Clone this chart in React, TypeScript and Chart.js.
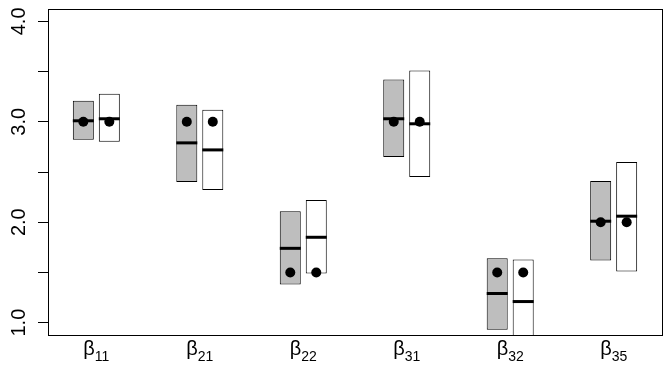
import React, { useEffect, useRef } from 'react';
import { Chart, registerables } from 'chart.js';

Chart.register(...registerables);

// Category subscripts (labels are β with these subscripts)
const subscripts = ['11', '21', '22', '31', '32', '35'];
const categoryPos = [1, 2, 3, 4, 5, 6];

// Gray boxes
const grayLow = [2.82, 2.40, 1.38, 2.65, 0.93, 1.62];
const grayHigh = [3.21, 3.17, 2.11, 3.42, 1.64, 2.41];
const grayMedian = [3.01, 2.79, 1.74, 3.03, 1.29, 2.01];

// White boxes
const whiteLow = [2.80, 2.32, 1.49, 2.45, 0.80, 1.51];
const whiteHigh = [3.28, 3.12, 2.22, 3.51, 1.63, 2.60];
const whiteMedian = [3.03, 2.72, 1.85, 2.98, 1.21, 2.06];

// True parameter values (black dots)
const trueValue = [3.0, 3.0, 1.5, 3.0, 1.5, 2.0];

// Y axis ticks
const yTicks = [1.0, 1.5, 2.0, 2.5, 3.0, 3.5, 4.0];
const yLabelTicks = [1.0, 2.0, 3.0, 4.0];

const FONT = "'Liberation Sans', Arial, sans-serif";

const overlayPlugin = {
  id: 'overlay',
  afterDatasetsDraw(chart: any) {
    const ctx = chart.ctx;
    const area = chart.chartArea;
    const ys = chart.scales.y;
    const medians = [grayMedian, whiteMedian];
    ctx.save();
    ctx.beginPath();
    ctx.rect(area.left, area.top, area.right - area.left, area.bottom - area.top);
    ctx.clip();
    // medians
    [0, 1].forEach((di) => {
      const meta = chart.getDatasetMeta(di);
      meta.data.forEach((bar: any, i: number) => {
        const y = ys.getPixelForValue(medians[di][i]);
        ctx.strokeStyle = '#000';
        ctx.lineWidth = 3;
        ctx.beginPath();
        ctx.moveTo(bar.x - bar.width / 2, y);
        ctx.lineTo(bar.x + bar.width / 2, y);
        ctx.stroke();
      });
    });
    // dots
    [0, 1].forEach((di) => {
      const meta = chart.getDatasetMeta(di);
      meta.data.forEach((bar: any, i: number) => {
        const y = ys.getPixelForValue(trueValue[i]);
        ctx.fillStyle = '#000';
        ctx.beginPath();
        ctx.arc(bar.x, y, 5, 0, Math.PI * 2);
        ctx.fill();
      });
    });
    ctx.restore();
  },
  afterDraw(chart: any) {
    const ctx = chart.ctx;
    const area = chart.chartArea;
    const xs = chart.scales.x;
    const ys = chart.scales.y;
    ctx.save();
    // frame
    ctx.strokeStyle = '#000';
    ctx.lineWidth = 1;
    const l = Math.round(area.left) + 0.5;
    const r = Math.round(area.right) + 0.5;
    const t = Math.round(area.top) + 0.5;
    const b = Math.round(area.bottom) + 0.5;
    ctx.strokeRect(l, t, r - l, b - t);
    // y labels (rotated)
    ctx.fillStyle = '#000';
    ctx.font = `20px ${FONT}`;
    ctx.textAlign = 'center';
    ctx.textBaseline = 'alphabetic';
    yLabelTicks.forEach((v) => {
      const y = ys.getPixelForValue(v);
      ctx.save();
      ctx.translate(24.5, y);
      ctx.rotate(-Math.PI / 2);
      ctx.fillText(v.toFixed(1), 0, 0);
      ctx.restore();
    });
    // x labels: β with subscript
    ctx.textAlign = 'left';
    categoryPos.forEach((p, i) => {
      const cx = xs.getPixelForValue(p);
      ctx.font = `20px ${FONT}`;
      const wb = ctx.measureText('β').width;
      ctx.font = `14px ${FONT}`;
      const ws = ctx.measureText(subscripts[i]).width;
      const x0 = cx - (wb + ws) / 2;
      ctx.font = `20px ${FONT}`;
      ctx.fillText('β', x0, 354.5);
      ctx.font = `14px ${FONT}`;
      ctx.fillText(subscripts[i], x0 + wb, 360.7);
    });
    ctx.restore();
  },
};

export default function App() {
  const ref = useRef<HTMLCanvasElement | null>(null);
  useEffect(() => {
    document.body.style.margin = '0';
    const canvas = ref.current;
    if (!canvas) return;
    const chart = new Chart(canvas, {
      type: 'bar',
      data: {
        datasets: [
          {
            label: 'gray',
            data: categoryPos.map((p, i) => ({ x: p, y: [grayLow[i], grayHigh[i]] })) as any,
            backgroundColor: '#BEBEBE',
            borderColor: '#000',
            borderWidth: 1,
            borderSkipped: false,
            categoryPercentage: 0.5024,
            barPercentage: 0.8077,
          },
          {
            label: 'white',
            data: categoryPos.map((p, i) => ({ x: p, y: [whiteLow[i], whiteHigh[i]] })) as any,
            backgroundColor: '#FFFFFF',
            borderColor: '#000',
            borderWidth: 1,
            borderSkipped: false,
            categoryPercentage: 0.5024,
            barPercentage: 0.8077,
          },
        ],
      },
      options: {
        animation: false,
        responsive: true,
        maintainAspectRatio: false,
        layout: { padding: { top: 9, right: 10, left: 0, bottom: 0 } },
        plugins: { legend: { display: false }, tooltip: { enabled: false } },
        scales: {
          x: {
            type: 'linear',
            offset: false,
            min: 0.533,
            max: 6.467,
            ticks: { display: false },
            grid: { display: false },
            border: { display: false },
            afterFit: (s: any) => {
              s.height = 48;
            },
          },
          y: {
            type: 'linear',
            min: 0.877,
            max: 4.123,
            afterBuildTicks: (s: any) => {
              s.ticks = yTicks.map((v) => ({ value: v }));
            },
            ticks: { display: false },
            grid: {
              display: true,
              drawOnChartArea: false,
              drawTicks: true,
              tickLength: 10,
              color: '#000',
              lineWidth: 1,
            },
            border: { display: false },
            afterFit: (s: any) => {
              s.width = 48;
            },
          },
        },
      },
      plugins: [overlayPlugin],
    });
    return () => chart.destroy();
  }, []);
  return (
    <div style={{ width: 672, height: 383, position: 'relative' }}>
      <canvas ref={ref} />
    </div>
  );
}
